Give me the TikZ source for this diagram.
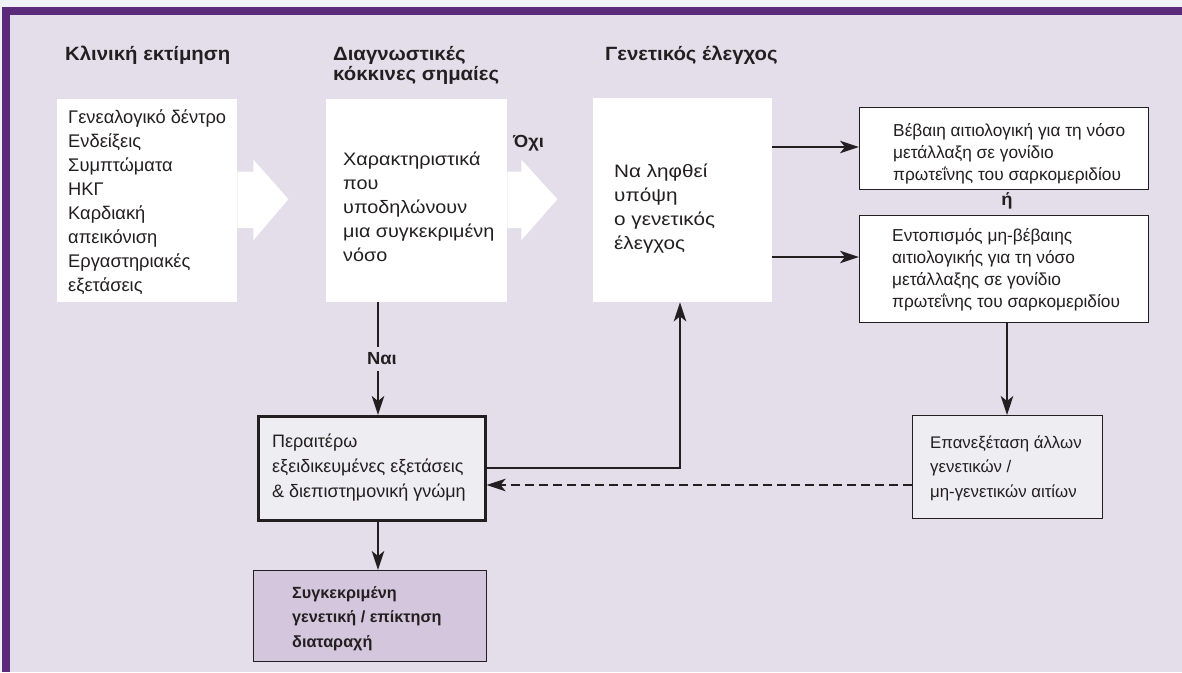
\documentclass[tikz,border=0pt]{standalone}
\usepackage{fontspec}
\setmainfont{Liberation Sans}
\usetikzlibrary{arrows.meta,calc}
\definecolor{lav}{HTML}{E4DEEB}
\definecolor{purp}{HTML}{5C2A7B}
\definecolor{strip}{HTML}{F0F1F6}
\definecolor{ink}{HTML}{231F20}
\definecolor{pgrey}{HTML}{EEEDF1}
\definecolor{sboxc}{HTML}{D4C7DD}
\begin{document}
\begin{tikzpicture}[x=1pt,y=-1pt,
  hdr/.style={inner sep=0pt,anchor=base west,align=left,text=ink,font=\fontsize{19.2}{20}\selectfont\bfseries\addfontfeatures{FakeStretch=1.06}},
  txt/.style={inner sep=0pt,anchor=base west,align=left,text=ink,font=\fontsize{18.3}{24}\selectfont},
  stxt/.style={inner sep=0pt,anchor=base west,align=left,text=ink,font=\fontsize{17.3}{21.7}\selectfont},
  lbl/.style={inner sep=1pt,text=ink,font=\fontsize{17.5}{18}\selectfont\bfseries\addfontfeatures{FakeStretch=1.05}},
  wbox/.style={fill=white,draw=none,anchor=north west,inner sep=0pt},
  rbox/.style={fill=white,draw=ink,line width=1pt,anchor=north west,inner sep=0pt},
  conn/.style={draw=ink,line width=2.2pt,-{Stealth[length=19pt,width=12.5pt,inset=5pt]}},
  blockarrow/.style={fill=white,draw=none}
]
\useasboundingbox (0,0) rectangle (1182,672);
\fill[strip] (0,0) rectangle (1182,672);
\fill[lav] (2,7) rectangle (1182,672);
\fill[purp] (2,7) rectangle (1182,15);
\fill[purp] (2,7) rectangle (10,672);

% headers
\node[hdr] (h1) at (65,60) {Κλινική εκτίμηση};
\node[hdr] (h2) at (333,80) {Διαγνωστικές\\κόκκινες σημαίες};
\node[hdr] (h3) at (605,60) {Γενετικός έλεγχος};

% white boxes
\node[wbox,minimum width=180pt,minimum height=203pt] (b1) at (57,99) {};
\node[wbox,minimum width=181pt,minimum height=203pt] (b2) at (326,99) {};
\node[wbox,minimum width=179pt,minimum height=204pt] (b3) at (593,98) {};

\node[txt] (t1) at (68,291) {Γενεαλογικό δέντρο\\Ενδείξεις\\Συμπτώματα\\ΗΚΓ\\Καρδιακή\\απεικόνιση\\Εργαστηριακές\\εξετάσεις};
\node[txt,font=\fontsize{18}{24}\selectfont\addfontfeatures{FakeStretch=1.1}] (t2) at (343,261) {Χαρακτηριστικά\\που\\υποδηλώνουν\\μια συγκεκριμένη\\νόσο};
\node[txt,font=\fontsize{18}{24}\selectfont\addfontfeatures{FakeStretch=1.15}] (t3) at (614,249) {Να ληφθεί\\υπόψη\\ο γενετικός\\έλεγχος};

% block arrows
\fill[blockarrow] ($(b1.east)+(0,-29)$) -- ++(16,0) -- ++(0,-12) -- ($(b1.east)+(51,-1.5)$) -- ($(b1.east)+(16,39.5)$) -- ++(0,-12) -- ($(b1.east)+(0,27.5)$) -- cycle;
\fill[blockarrow] ($(b2.east)+(0,-29)$) -- ++(14,0) -- ++(0,-12) -- ($(b2.east)+(50,-1.5)$) -- ($(b2.east)+(14,39.5)$) -- ++(0,-12) -- ($(b2.east)+(0,27.5)$) -- cycle;
\node[lbl,anchor=base west,inner sep=0pt] (no) at (513,147) {Όχι};

% right boxes
\node[rbox,minimum width=289pt,minimum height=82pt] (r1) at (859,107) {};
\node[stxt] (tr1) at (893,180) {Βέβαιη αιτιολογική για τη νόσο\\μετάλλαξη σε γονίδιο\\πρωτεΐνης του σαρκομεριδίου};
\node[lbl,anchor=base,inner sep=0pt] (or) at (1007,205) {ή};
\node[rbox,minimum width=289pt,minimum height=107pt] (r2) at (859,215) {};
\node[stxt] (tr2) at (892,307) {Εντοπισμός μη-βέβαιης\\αιτιολογικής για τη νόσο\\μετάλλαξης σε γονίδιο\\πρωτεΐνης του σαρκομεριδίου};

\node[rbox,fill=pgrey,line width=1.3pt,minimum width=190pt,minimum height=103pt] (r3) at (912,415) {};
\node[stxt,font=\fontsize{16.8}{24.5}\selectfont] (tr3) at (930,497) {Επανεξέταση άλλων\\γενετικών /\\μη-γενετικών αιτίων};

% further tests box
\node[rbox,fill=pgrey,line width=2.6pt,minimum width=227pt,minimum height=104pt] (p) at (257,415) {};
\node[stxt,font=\fontsize{18}{25}\selectfont] (tp) at (272,497) {Περαιτέρω\\εξειδικευμένες εξετάσεις\\\& διεπιστημονική γνώμη};

% specific disorder box
\node[rbox,fill=sboxc,line width=1.2pt,minimum width=233pt,minimum height=91pt] (s) at (253,570) {};
\node[inner sep=0pt,anchor=base west,align=left,text=ink,font=\fontsize{16.2}{24.5}\selectfont\bfseries] (ts) at (292,647) {Συγκεκριμένη\\γενετική / επίκτηση\\διαταραχή};

% connectors
\draw[conn] (b2.south -| 378,0) -- node[lbl,fill=lav,inner xsep=2pt,inner ysep=6pt,xshift=4pt] (yes) {Ναι} (p.north -| 378,0);
\draw[conn] (p.south -| 378,0) -- (s.north -| 378,0);
\draw[conn] (b3.east |- 0,147) -- (r1.west |- 0,147);
\draw[conn] (b3.east |- 0,257) -- (r2.west |- 0,257);
\draw[conn] (r2.south -| 1007,0) -- (r3.north -| 1007,0);
\draw[conn] (p.east |- 0,468) -- (680,468) -- (b3.south -| 680,0);
\draw[conn,dash pattern=on 9pt off 5pt] (r3.west |- 0,485) -- (p.east |- 0,485);
\end{tikzpicture}
\end{document}
